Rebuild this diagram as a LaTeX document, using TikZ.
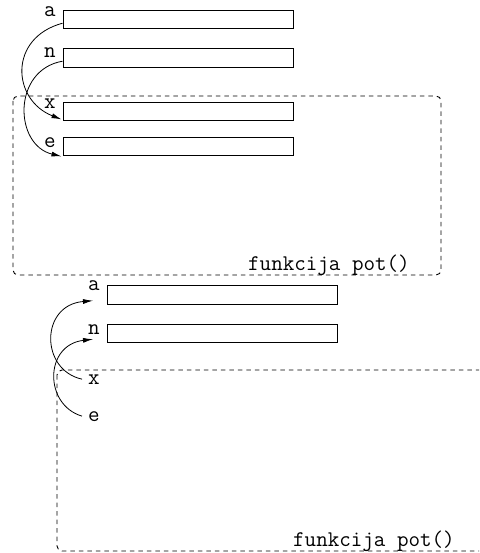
\documentclass[tikz,border=0pt]{standalone}
\usepackage{fontspec}
\usetikzlibrary{arrows.meta}
\begin{document}
\begin{tikzpicture}[x=1pt,y=-1pt,
  membox/.style={draw,line width=0.9pt,rectangle,inner sep=0pt,anchor=north west,
    minimum width=230pt,minimum height=18.5pt},
  varlbl/.style={inner sep=0pt,anchor=base,font=\ttfamily\fontsize{22.4}{26}\selectfont},
  fnlbl/.style={inner sep=0pt,anchor=base west,font=\ttfamily\fontsize{22.4}{26}\selectfont},
  frame/.style={draw,line width=0.9pt,dash pattern=on 4.5pt off 4pt,rounded corners=5pt},
  link/.style={draw,line width=0.8pt,-{Latex[length=10pt,width=5pt]}}]
\useasboundingbox (0,0) rectangle (479,553);
\clip (0,0) rectangle (479,553);

% outer call frame: variables a and n
\node[membox] (ba) at (62.5,10) {};
\node[membox] (bn) at (62.5,48.5) {};
\node[varlbl] (la) at (50,17) {a};
\node[varlbl] (ln) at (50,58) {n};

% frame of the first call of pot()
\draw[frame] (13,96) rectangle (441,275);
\node[membox] (bx) at (62.5,102) {};
\node[membox] (be) at (62.5,137) {};
\node[varlbl] (lx) at (50,109) {x};
\node[varlbl] (le) at (50,148) {e};
\node[fnlbl] (f1) at (248,270) {funkcija pot()};

% arguments copied into the parameters
\draw[link] ([yshift=-3.5pt]ba.west) .. controls (8,38) and (12,100) .. ([xshift=-1pt,yshift=2pt]bx.south west);
\draw[link] ([yshift=-3pt]bn.west) .. controls (12,70) and (14,145) .. ([xshift=-1pt]be.south west);

% second picture: the call frame below
\node[membox] (ba2) at (107,285) {};
\node[membox] (bn2) at (107,323.5) {};
\node[varlbl] (la2) at (94,290) {a};
\node[varlbl] (ln2) at (94,334) {n};

\draw[frame] (57,370) rectangle (540,551);
\node[varlbl] (lx2) at (94,384) {x};
\node[varlbl] (le2) at (94,421) {e};
\node[fnlbl] (f2) at (293,546) {funkcija pot()};

% parameters mapped back to the caller's variables
\draw[link] ([xshift=-6pt]lx2.west) .. controls (40,370) and (40,305) .. ([xshift=-14pt,yshift=-6pt]ba2.west);
\draw[link] ([xshift=-6pt]le2.west) .. controls (44,405) and (44,345) .. ([xshift=-14pt,yshift=-6pt]bn2.west);
\end{tikzpicture}
\end{document}
